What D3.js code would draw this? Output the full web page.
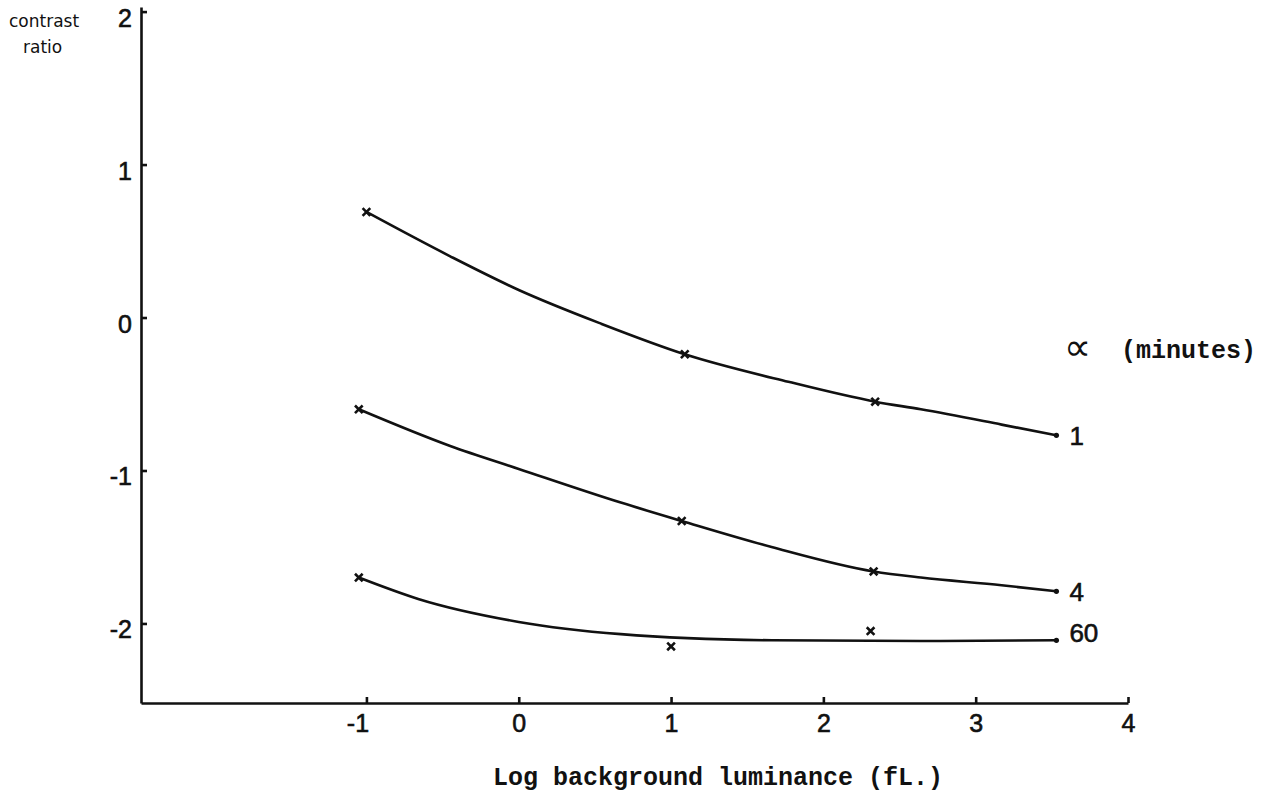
<!DOCTYPE html>
<html>
<head>
<meta charset="utf-8">
<script src="https://d3js.org/d3.v7.min.js"></script>
<style>
  body { margin: 0; background: #fff; }
  .tick text { font-family: "Liberation Sans", Arial, sans-serif; font-size: 25px; fill: #111; stroke: #111; stroke-width: 0.6px; }
  .domain, .tick line { stroke: #111; stroke-width: 2.6px; }
  .line { fill: none; stroke: #111; stroke-width: 2.6px; }
</style>
</head>
<body>
<div id="cont"></div>
<script>

// tick labels
var xTicks = [-1, 0, 1, 2, 3, 4];
var yTicks = [-2, -1, 0, 1, 2];

// curve labels (alpha, minutes)
var alphaLabels = ["1", "4", "60"];

// the drawn curves
var curve1 = [[-1.0, 0.69], [-0.45, 0.40], [0, 0.18], [0.54, -0.04], [1.09, -0.24],
              [1.77, -0.42], [2.34, -0.55], [2.64, -0.60], [3.17, -0.70], [3.53, -0.77]];
var curve4 = [[-1.05, -0.60], [-0.45, -0.84], [0, -0.99], [0.67, -1.21], [1.07, -1.33],
              [1.66, -1.50], [2.33, -1.66], [2.64, -1.70], [3.17, -1.75], [3.53, -1.79]];
var curve60 = [[-1.05, -1.70], [-0.66, -1.84], [0, -1.99], [0.67, -2.07], [1.66, -2.11],
               [2.64, -2.115], [3.53, -2.11]];

// measured points (x marks)
var marks1 = [[-1.0, 0.69], [1.09, -0.24], [2.34, -0.55]];
var marks4 = [[-1.05, -0.60], [1.07, -1.33], [2.33, -1.66]];
var marks60 = [[-1.05, -1.70], [1.0, -2.15], [2.31, -2.05]];

var curves = [curve1, curve4, curve60];
var marks = [marks1, marks4, marks60];

var width = 1277, height = 804;

// set the ranges
var x = d3.scaleLinear().domain([-2.48, 4]).range([141, 1128]);
var y = d3.scaleLinear().domain([-2.52, 2.03]).range([703, 7]);

var svg = d3.select("#cont").append("svg")
    .attr("width", width)
    .attr("height", height);

var fmt = function(d) { return String(d); };

// X axis
var xAxis = svg.append("g")
    .attr("transform", "translate(0," + y(-2.52) + ")")
    .call(d3.axisBottom(x).tickValues(xTicks).tickFormat(fmt)
      .tickSize(-6).tickSizeOuter(0).tickPadding(11));
xAxis.selectAll(".tick text")
    .attr("dx", function(d) { return d < 0 ? -9 : 0; });

// Y axis
var yAxis = svg.append("g")
    .attr("transform", "translate(" + x(-2.48) + ",0)")
    .call(d3.axisLeft(y).tickValues(yTicks).tickFormat(fmt)
      .tickSize(-6).tickSizeOuter(0).tickPadding(9));
yAxis.selectAll(".tick text")
    .attr("dy", "0.58em");

// the curves
var valueline = d3.line()
    .x(function(d) { return x(d[0]); })
    .y(function(d) { return y(d[1]); })
    .curve(d3.curveMonotoneX);

svg.selectAll(".line")
    .data(curves)
  .enter().append("path")
    .attr("class", "line")
    .attr("d", valueline);

// small dot at the end of each curve
svg.selectAll(".end")
    .data(curves)
  .enter().append("circle")
    .attr("class", "end")
    .attr("r", 2.6)
    .attr("cx", function(d) { return x(d[d.length - 1][0]); })
    .attr("cy", function(d) { return y(d[d.length - 1][1]); })
    .style("fill", "#111");

// the x marks
var cross = d3.symbol().type(d3.symbolX).size(40);
svg.selectAll(".mark")
    .data(d3.merge(marks))
  .enter().append("path")
    .attr("class", "mark")
    .attr("d", cross)
    .attr("transform", function(d) { return "translate(" + x(d[0]) + "," + y(d[1]) + ")"; })
    .style("fill", "none")
    .style("stroke", "#111")
    .style("stroke-width", 2.6);

// curve labels
svg.selectAll(".clabel")
    .data(curves)
  .enter().append("text")
    .attr("class", "clabel")
    .attr("x", function(d) { return x(d[d.length - 1][0]) + 13; })
    .attr("y", function(d) { return y(d[d.length - 1][1]); })
    .attr("dy", function(d, i) { return i == 2 ? "0.05em" : "0.36em"; })
    .style("font-family", "'Liberation Sans', Arial, sans-serif")
    .style("font-size", "26px")
    .style("fill", "#111")
    .style("stroke", "#111")
    .style("stroke-width", 0.6)
    .text(function(d, i) { return alphaLabels[i]; });

// alpha (minutes) heading
svg.append("text")
    .attr("x", 1064)
    .attr("y", 360)
    .style("font-family", "'DejaVu Sans', sans-serif")
    .style("font-size", "38px")
    .style("fill", "#111")
    .text("\u221D");
svg.append("text")
    .attr("x", 1121)
    .attr("y", 358)
    .style("font-family", "'Liberation Mono', 'Courier New', monospace")
    .style("font-size", "25px")
    .style("font-weight", "bold")
    .style("fill", "#111")
    .text("(minutes)");

// x axis title
svg.append("text")
    .attr("x", 718)
    .attr("y", 785)
    .attr("text-anchor", "middle")
    .style("font-family", "'Liberation Mono', 'Courier New', monospace")
    .style("font-size", "25px")
    .style("font-weight", "bold")
    .style("fill", "#111")
    .text("Log background luminance (fL.)");

// y axis title, hand written in the original
svg.append("text")
    .attr("x", 9)
    .attr("y", 27)
    .style("font-family", "'DejaVu Sans', sans-serif")
    .style("font-size", "17px")
    .style("fill", "#111")
    .text("contrast");
svg.append("text")
    .attr("x", 23)
    .attr("y", 53)
    .style("font-family", "'DejaVu Sans', sans-serif")
    .style("font-size", "17px")
    .style("fill", "#111")
    .text("ratio");

</script>
</body>
</html>
